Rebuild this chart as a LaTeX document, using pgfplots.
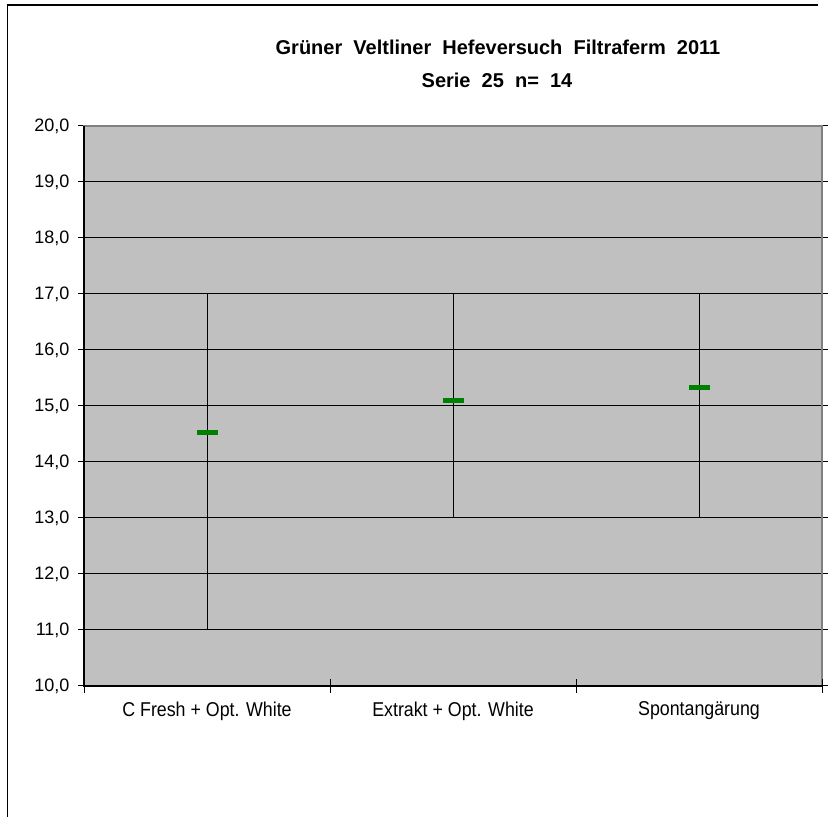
\documentclass[border=0pt]{standalone}
\usepackage{fontspec}
\setmainfont{Liberation Sans}
\newfontfamily\catfont[FakeStretch=0.89]{Liberation Sans}
\usepackage{pgfplots}
\pgfplotsset{compat=1.18}
\definecolor{plotgray}{HTML}{C0C0C0}
\definecolor{framegray}{HTML}{808080}
\definecolor{meangreen}{HTML}{008000}

\begin{document}
\begin{tikzpicture}
\path[use as bounding box] (0,0) rectangle (828pt,817pt);
% outer frame of the chart area
\draw[line width=1.5pt] (7.5pt,0pt) -- (7.5pt,812pt) -- (818pt,812pt);
\node[font=\fontsize{20}{24}\selectfont\bfseries, anchor=base] at (498pt,762pt)
  {Grüner\ \ Veltliner\ \ Hefeversuch\ \ Filtraferm\ \ 2011};
\node[font=\fontsize{20}{24}\selectfont\bfseries, anchor=base] at (497pt,729pt)
  {Serie\ \ 25\ \ n=\ \ 14};
\begin{axis}[
  at={(84pt,131pt)}, anchor=south west,
  scale only axis, width=738pt, height=560pt,
  xmin=0.5, xmax=3.5, ymin=10, ymax=20,
  axis background/.style={fill=plotgray},
  axis line style={framegray, line width=1.2pt},
  xtick={1,2,3},
  xticklabels={C Fresh + Opt. White, Extrakt + Opt. White, Spontangärung},
  xtick style={draw=none},
  ytick={10,11,...,20},
  tick align=outside, major tick length=6pt,
  ytick style={black, line width=1pt},
  ymajorgrids, major grid style={black, line width=1pt},
  y tick label style={font=\fontsize{18}{21}\selectfont, xshift=-5pt},
  x tick label style={font=\catfont\fontsize{20}{23}\selectfont, yshift=-6pt},
  yticklabel style={/pgf/number format/.cd, fixed, fixed zerofill, precision=1, use comma, assume math mode=true},
  clip=false,
]
% min/max range of each variant
\addplot[only marks, mark=none, error bars/.cd, y dir=both, y explicit, error mark=none,
  error bar style={black, line width=1pt, solid}]
  coordinates {
    (1,14.53) += (0,2.47) -= (0,3.53)
    (2,15.09) += (0,1.91) -= (0,2.09)
    (3,15.33) += (0,1.67) -= (0,2.33)
  };
% mean values
\addplot[only marks, mark=-, mark size=10.5pt, mark options={meangreen, line width=5pt}]
  coordinates {(1,14.53) (2,15.09) (3,15.33)};
\draw[black, line width=1.2pt] (rel axis cs:0,1) -- (rel axis cs:0,0) -- (rel axis cs:1,0);
\pgfplotsinvokeforeach{0.5,1.5,2.5,3.5}{
  \draw[black, line width=1pt] ([yshift=-7pt]axis cs:#1,10) -- ([yshift=7pt]axis cs:#1,10);
}
\end{axis}
\end{tikzpicture}
\end{document}
